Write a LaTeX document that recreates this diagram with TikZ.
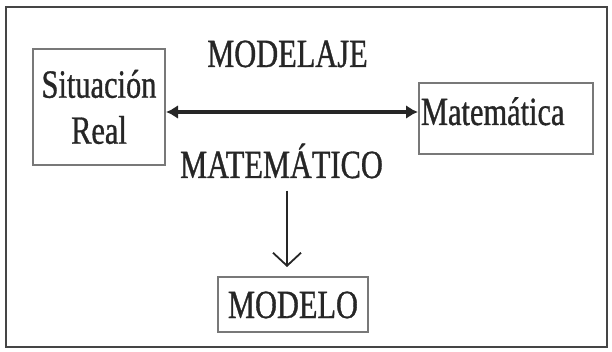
\documentclass[tikz,border=0pt]{standalone}
\usepackage{fontspec}
\setmainfont{Liberation Serif}[FakeStretch=0.76, FakeBold=0.8]
\usetikzlibrary{arrows.meta,positioning}
\definecolor{inkgray}{HTML}{262626}
\definecolor{boxgray}{HTML}{787878}
\definecolor{framegray}{HTML}{454545}
\tikzstyle{card} = [rectangle, draw=boxgray, line width=2pt, text=inkgray, align=center]
\tikzstyle{caption} = [inner sep=0pt, text=inkgray, anchor=base]
\tikzstyle{biarrow} = [line width=3.6pt, draw=inkgray, {Latex[length=12pt,width=14pt]}-{Latex[length=12pt,width=14pt]}]
\tikzstyle{arrow} = [line width=1.8pt, draw=inkgray, -{Straight Barb[length=13pt,width=28pt]}]

\begin{document}
\begin{tikzpicture}[x=1pt, y=-1pt, font=\fontsize{40}{46}\selectfont]

\useasboundingbox (0,0) rectangle (612,352);
\draw [framegray, line width=2.6pt] (6,7) rectangle (607,347);

\node (sitReal) [card, minimum width=132pt, minimum height=116pt] at (99,107) {Situación\\Real};
\node (mate) [card, anchor=base, align=left, text width=170pt, inner xsep=2pt, inner ysep=0pt, text height=42pt, text depth=29pt] at (506,125) {Matemática};
\node (modelo) [card, anchor=base, minimum width=150pt, inner ysep=0pt, text height=41pt, text depth=14pt] at (293,318) {MODELO};

\node (modLbl) [caption] at (287.5,67) {MODELAJE};
\node (matLbl) [caption] at (281.5,178) {MATEMÁTICO};

\draw [biarrow] ([yshift=-5pt]sitReal.east) -- ([yshift=6.5pt]mate.west);
\coordinate (drop) at ([xshift=5.5pt]matLbl.south);
\draw [arrow, shorten <=12pt, shorten >=9pt] (drop) -- (drop |- modelo.north);

\end{tikzpicture}
\end{document}
